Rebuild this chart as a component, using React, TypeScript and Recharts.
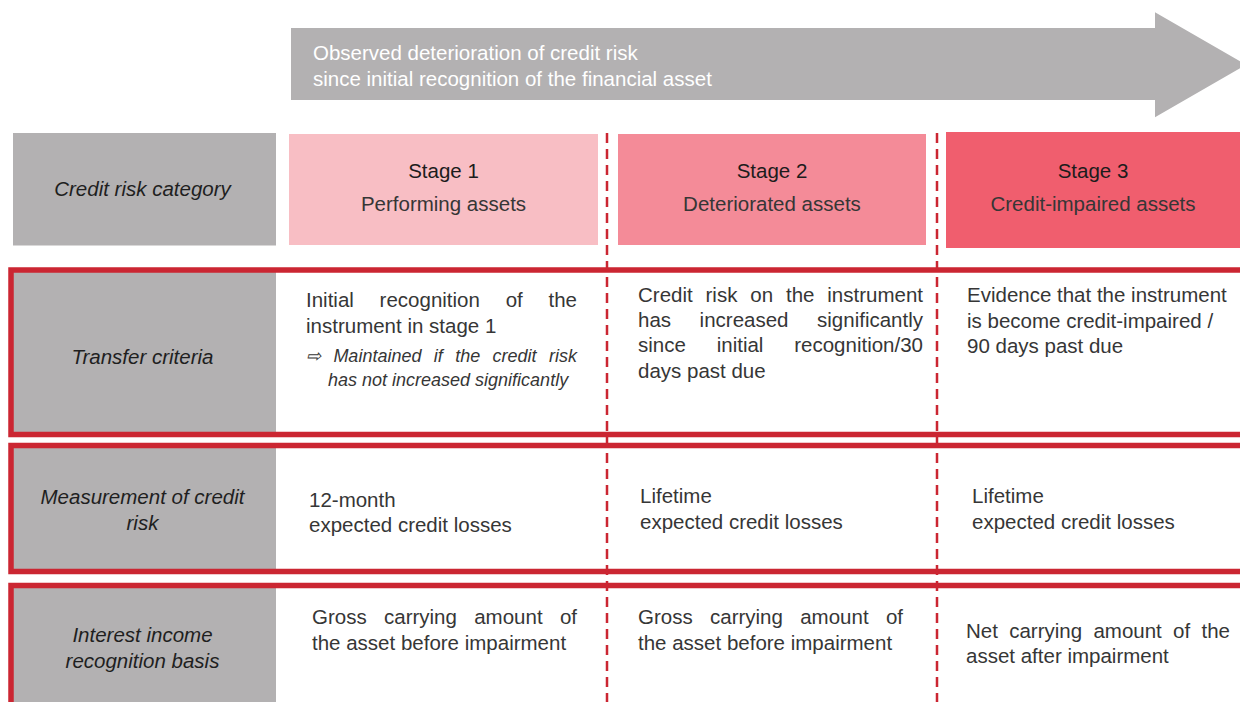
import { ComposedChart, ReferenceArea, ReferenceLine, XAxis, YAxis } from "recharts";

// ---- content ----
const ARROW_LINES = [
  "Observed deterioration of credit risk",
  "since initial recognition of the financial asset",
];
const STAGE_TITLES = ["Stage 1", "Stage 2", "Stage 3"];
const STAGE_SUBTITLES = ["Performing assets", "Deteriorated assets", "Credit-impaired assets"];
const ROW_LABELS = [
  ["Credit risk category"],
  ["Transfer criteria"],
  ["Measurement of credit", "risk"],
  ["Interest income", "recognition basis"],
];
const TRANSFER_CRITERIA = [
  ["Initial recognition of the", "instrument in stage 1"],
  ["Credit risk on the instrument", "has increased significantly", "since initial recognition/30", "days past due"],
  ["Evidence that the instrument", "is become credit-impaired /", "90 days past due"],
];
const TRANSFER_NOTE = ["\u21E8 Maintained if the credit risk", "has not increased significantly"];
const MEASUREMENT = [
  ["12-month", "expected credit losses"],
  ["Lifetime", "expected credit losses"],
  ["Lifetime", "expected credit losses"],
];
const INTEREST_BASIS = [
  ["Gross carrying amount of", "the asset before impairment"],
  ["Gross carrying amount of", "the asset before impairment"],
  ["Net carrying amount of the", "asset after impairment"],
];

// ---- layout (pixel units on both axes) ----
const W = 1240;
const H = 702;
const FONT = "'Liberation Sans', Arial, sans-serif";
const GREY = "#b3b1b2";
const RED = "#cb2632";
const BODY_TEXT = "#363636";
const STAGE_FILLS = ["#f8bec4", "#f48b98", "#f05e6e"];
const STAGE_BOXES = [
  { x1: 289, x2: 598, y1: 134, y2: 245 },
  { x1: 618, x2: 926, y1: 134, y2: 245 },
  { x1: 946, x2: 1240, y1: 132, y2: 248 },
];
const LABEL_CELLS = [
  { x1: 13, y1: 133, y2: 245.5 },
  { x1: 11, y1: 271, y2: 433 },
  { x1: 11, y1: 446, y2: 571 },
  { x1: 11, y1: 586, y2: 702 },
];
const FRAMES = [
  { y1: 270, y2: 434.5 },
  { y1: 445.5, y2: 571.5 },
  { y1: 585.5, y2: 730 },
];
const DIVIDERS = [607, 937];

interface Block {
  lines: string[];
  x1: number;
  x2: number;
  y: number; // first baseline
  gap: number;
  size: number;
  justify?: boolean[];
  italic?: boolean;
  anchor?: "start" | "middle";
  fill?: string;
}

let ctx: CanvasRenderingContext2D | null = null;
function measure(text: string, font: string) {
  if (!ctx) ctx = document.createElement("canvas").getContext("2d");
  if (!ctx) return text.length * 10;
  ctx.font = font;
  return ctx.measureText(text).width;
}

function TextLines({ vb, b }: { vb: any; b: Block }) {
  if (!vb) return null;
  const font = `${b.italic ? "italic" : "normal"} 400 ${b.size}px 'Liberation Sans'`;
  const common = {
    fontFamily: FONT,
    fontSize: b.size,
    fontStyle: b.italic ? "italic" : "normal",
    fill: b.fill ?? BODY_TEXT,
  };
  return (
    <g>
      {b.lines.map((line, i) => {
        const y = vb.y + i * b.gap;
        if (b.anchor === "middle") {
          return (
            <text key={i} x={vb.x + vb.width / 2} y={y} textAnchor="middle" {...common}>
              {line}
            </text>
          );
        }
        if (b.justify?.[i]) {
          // spread the words across the full column width
          const words = line.split(" ");
          const widths = words.map((w) => measure(w, font));
          const total = widths.reduce((a, c) => a + c, 0);
          const space = words.length > 1 ? (vb.width - total) / (words.length - 1) : 0;
          let cx = vb.x;
          return (
            <text key={i} y={y} {...common}>
              {words.map((w, j) => {
                const el = (
                  <tspan key={j} x={cx}>
                    {w}
                  </tspan>
                );
                cx += widths[j] + space;
                return el;
              })}
            </text>
          );
        }
        return (
          <text key={i} x={vb.x} y={y} {...common}>
            {line}
          </text>
        );
      })}
    </g>
  );
}

const cellBlocks: Block[] = [
  // arrow text
  { lines: ARROW_LINES, x1: 313, x2: 760, y: 60, gap: 25.5, size: 20.5, fill: "#ffffff" },
  // transfer criteria
  { lines: TRANSFER_CRITERIA[0], x1: 306, x2: 577, y: 307, gap: 26, size: 20.5, justify: [true, false] },
  { lines: [TRANSFER_NOTE[0]], x1: 306, x2: 577, y: 362, gap: 24, size: 18, italic: true, justify: [true] },
  { lines: [TRANSFER_NOTE[1]], x1: 328, x2: 568, y: 386, gap: 24, size: 18, italic: true },
  {
    lines: TRANSFER_CRITERIA[1],
    x1: 638,
    x2: 923,
    y: 302,
    gap: 25.2,
    size: 20.5,
    justify: [true, true, true, false],
  },
  { lines: TRANSFER_CRITERIA[2], x1: 967, x2: 1234, y: 302, gap: 25.5, size: 20.5 },
  // measurement
  { lines: MEASUREMENT[0], x1: 309, x2: 577, y: 507, gap: 25, size: 20.5 },
  { lines: MEASUREMENT[1], x1: 640, x2: 923, y: 503, gap: 26, size: 20.5 },
  { lines: MEASUREMENT[2], x1: 972, x2: 1234, y: 503, gap: 26, size: 20.5 },
  // interest basis
  { lines: INTEREST_BASIS[0], x1: 312, x2: 577, y: 624, gap: 26, size: 20.5, justify: [true, false] },
  { lines: INTEREST_BASIS[1], x1: 638, x2: 903, y: 624, gap: 26, size: 20.5, justify: [true, false] },
  { lines: INTEREST_BASIS[2], x1: 966, x2: 1230, y: 638, gap: 25, size: 20.5, justify: [true, false] },
];

const LABEL_BASELINES = [196, 364, 504, 642];

const labelBlocks: Block[] = ROW_LABELS.map((lines, i) => ({
  lines,
  x1: 13,
  x2: 272,
  y: LABEL_BASELINES[i],
  gap: 26,
  size: 20.5,
  italic: true,
  anchor: "middle",
  fill: "#1f1f1f",
}));

const stageBlocks: Block[] = STAGE_BOXES.map((box, i) => ({
  lines: [STAGE_TITLES[i], STAGE_SUBTITLES[i]],
  x1: box.x1,
  x2: box.x2,
  y: 177.5,
  gap: 33,
  size: 20.5,
  anchor: "middle",
}));

function blockArea(b: Block, key: string) {
  return (
    <ReferenceArea
      key={key}
      x1={b.x1}
      x2={b.x2}
      y1={b.y}
      y2={b.y + Math.max(1, b.gap * (b.lines.length - 1))}
      fill="none"
      stroke="none"
      ifOverflow="visible"
      label={(p: any) => <TextLines vb={p.viewBox} b={b} />}
    />
  );
}

function StageBlock({ vb, b }: { vb: any; b: Block }) {
  if (!vb) return null;
  const cx = vb.x + vb.width / 2;
  return (
    <g>
      <text x={cx} y={vb.y} textAnchor="middle" fontFamily={FONT} fontSize={b.size} fill="#1c1c1c">
        {b.lines[0]}
      </text>
      <text x={cx} y={vb.y + b.gap} textAnchor="middle" fontFamily={FONT} fontSize={b.size} fill={BODY_TEXT}>
        {b.lines[1]}
      </text>
    </g>
  );
}

// arrow geometry (pixel units)
const ARROW = { x1: 291, x2: 1246, y1: 12.3, y2: 117.3, headX: 1155, bodyTop: 28, bodyBottom: 100 };

function ArrowShape(p: any) {
  const sx = p.width / (ARROW.x2 - ARROW.x1);
  const sy = p.height / (ARROW.y2 - ARROW.y1);
  const X = (v: number) => p.x + (v - ARROW.x1) * sx;
  const Y = (v: number) => p.y + (v - ARROW.y1) * sy;
  const mid = (ARROW.y1 + ARROW.y2) / 2;
  const pts = [
    [X(ARROW.x1), Y(ARROW.bodyTop)],
    [X(ARROW.headX), Y(ARROW.bodyTop)],
    [X(ARROW.headX), Y(ARROW.y1)],
    [X(ARROW.x2), Y(mid)],
    [X(ARROW.headX), Y(ARROW.y2)],
    [X(ARROW.headX), Y(ARROW.bodyBottom)],
    [X(ARROW.x1), Y(ARROW.bodyBottom)],
  ];
  return <polygon points={pts.map((q) => q.join(",")).join(" ")} fill={GREY} />;
}

export default function App() {
  return (
    <div style={{ width: W, height: H, background: "#fff" }}>
      <style>{`body{margin:0}`}</style>
      <ComposedChart width={W} height={H} data={[]} margin={{ top: 0, right: 0, bottom: 0, left: 0 }}>
        <XAxis type="number" dataKey="x" domain={[0, W]} hide allowDataOverflow />
        <YAxis type="number" domain={[0, H]} reversed hide allowDataOverflow />

        <ReferenceArea
          x1={ARROW.x1}
          x2={ARROW.x2}
          y1={ARROW.y1}
          y2={ARROW.y2}
          ifOverflow="visible"
          shape={ArrowShape}
        />

        {LABEL_CELLS.map((c, i) => (
          <ReferenceArea
            key={`lc${i}`}
            x1={c.x1}
            x2={276}
            y1={c.y1}
            y2={c.y2}
            fill={GREY}
            fillOpacity={1}
            stroke="none"
            ifOverflow="visible"
          />
        ))}

        {STAGE_BOXES.map((b, i) => (
          <ReferenceArea
            key={`sb${i}`}
            x1={b.x1}
            x2={b.x2}
            y1={b.y1}
            y2={b.y2}
            fill={STAGE_FILLS[i]}
            fillOpacity={1}
            stroke="none"
            ifOverflow="visible"
          />
        ))}

        {FRAMES.map((f, i) => (
          <ReferenceArea
            key={`fr${i}`}
            x1={11}
            x2={1260}
            y1={f.y1}
            y2={f.y2}
            fill="none"
            stroke={RED}
            strokeWidth={5.5}
            ifOverflow="visible"
          />
        ))}

        {DIVIDERS.map((x) => (
          <ReferenceLine
            key={`dv${x}`}
            segment={[
              { x, y: 133 },
              { x, y: H },
            ]}
            stroke={RED}
            strokeWidth={2.5}
            strokeDasharray="10 6"
            ifOverflow="visible"
          />
        ))}

        {stageBlocks.map((b, i) => (
          <ReferenceArea
            key={`st${i}`}
            x1={b.x1}
            x2={b.x2}
            y1={b.y}
            y2={b.y + b.gap}
            fill="none"
            stroke="none"
            ifOverflow="visible"
            label={(p: any) => <StageBlock vb={p.viewBox} b={b} />}
          />
        ))}
        {labelBlocks.map((b, i) => blockArea(b, `lb${i}`))}
        {cellBlocks.map((b, i) => blockArea(b, `cb${i}`))}
      </ComposedChart>
    </div>
  );
}
